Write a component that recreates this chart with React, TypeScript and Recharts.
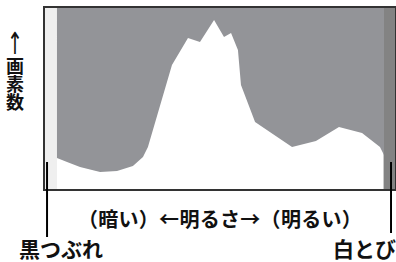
import React from "react";
import { ComposedChart, Area, XAxis, YAxis, ReferenceArea, ReferenceLine } from "recharts";

// brightness (0-255) and pixel share (% of frame height)
const brightness = [9.4, 16.7, 26.1, 40.6, 52.9, 64.4, 71.7, 75.3, 92.7, 104.3, 113.0, 123.2, 130.4, 135.5, 140.5, 142.7, 152.9, 179.7, 197.0, 213.7, 230.4, 243.4, 246.3];
const pixels = [17.5, 15.3, 12.6, 9.8, 10.4, 13.1, 18.0, 23.5, 68.3, 83.1, 80.9, 92.9, 83.6, 85.8, 76.5, 57.4, 37.2, 23.5, 26.8, 34.4, 31.1, 23.5, 19.1];

const shadowClip = 9.4;
const highlightClip = 246;

const xLabel = "（暗い）←明るさ→（明るい）";
const yLabel = "画素数";
const shadowLabel = "黒つぶれ";
const highlightLabel = "白とび";

const FONT = '"Noto Sans CJK JP", "Noto Sans CJK SC", sans-serif';

export default function App() {
    // gray sky above the histogram as a range area, white below is the page
    const data = brightness.map((b, i) => ({ b, sky: [pixels[i], 100] }));

    return (
        <div style={{ position: "absolute", left: 0, top: 0, width: 396, height: 262, background: "#fff", overflow: "hidden", fontFamily: FONT }}>
            <ComposedChart width={396} height={262} data={data} margin={{ top: 7, right: 0, bottom: 72, left: 44 }}>
                <XAxis dataKey="b" type="number" domain={[0, 255]} hide />
                <YAxis type="number" domain={[0, 100]} hide />
                <ReferenceArea x1={0} x2={shadowClip} y1={0} y2={100} fill="#efefef" fillOpacity={1} stroke="none" />
                <ReferenceArea x1={highlightClip} x2={255} y1={0} y2={100} fill="#838383" fillOpacity={1} stroke="none" />
                <Area
                    type="linear"
                    dataKey="sky"
                    fill="#939498"
                    fillOpacity={1}
                    stroke="none"
                    isAnimationActive={false}
                    dot={false}
                    activeDot={false}
                />
                <ReferenceArea x1={0} x2={255} y1={0} y2={100} fill="none" stroke="#333" strokeWidth={2} />
                <ReferenceLine segment={[{ x: 2.2, y: 15.3 }, { x: 2.2, y: -25.7 }]} stroke="#000" strokeWidth={2} ifOverflow="visible" />
                <ReferenceLine segment={[{ x: 251.4, y: 15.3 }, { x: 251.4, y: -23.5 }]} stroke="#000" strokeWidth={2} ifOverflow="visible" />
            </ComposedChart>

            {/* y label */}
            <div style={{ position: "absolute", left: 1, top: 31, width: 28, height: 24, textAlign: "center", fontFamily: '"DejaVu Sans", sans-serif', fontSize: 19, lineHeight: "24px", color: "#111", transform: "scaleY(1.6)", transformOrigin: "50% 50%" }}>↑</div>
            <div style={{ position: "absolute", left: 4, top: 57, width: 22, writingMode: "vertical-rl", fontSize: 18, lineHeight: "22px", fontWeight: 700, color: "#111" }}>{yLabel}</div>

            <div style={{ position: "absolute", left: 44, width: 352, top: 207, textAlign: "center", fontSize: 20, letterSpacing: 0.3, lineHeight: "24px", fontWeight: 700, color: "#111", whiteSpace: "nowrap" }}>{xLabel}</div>
            <div style={{ position: "absolute", left: 19, top: 236, fontSize: 21, lineHeight: "24px", fontWeight: 700, color: "#111", whiteSpace: "nowrap" }}>{shadowLabel}</div>
            <div style={{ position: "absolute", right: 0, top: 236, fontSize: 21, lineHeight: "24px", fontWeight: 700, color: "#111", whiteSpace: "nowrap" }}>{highlightLabel}</div>
        </div>
    );
}
